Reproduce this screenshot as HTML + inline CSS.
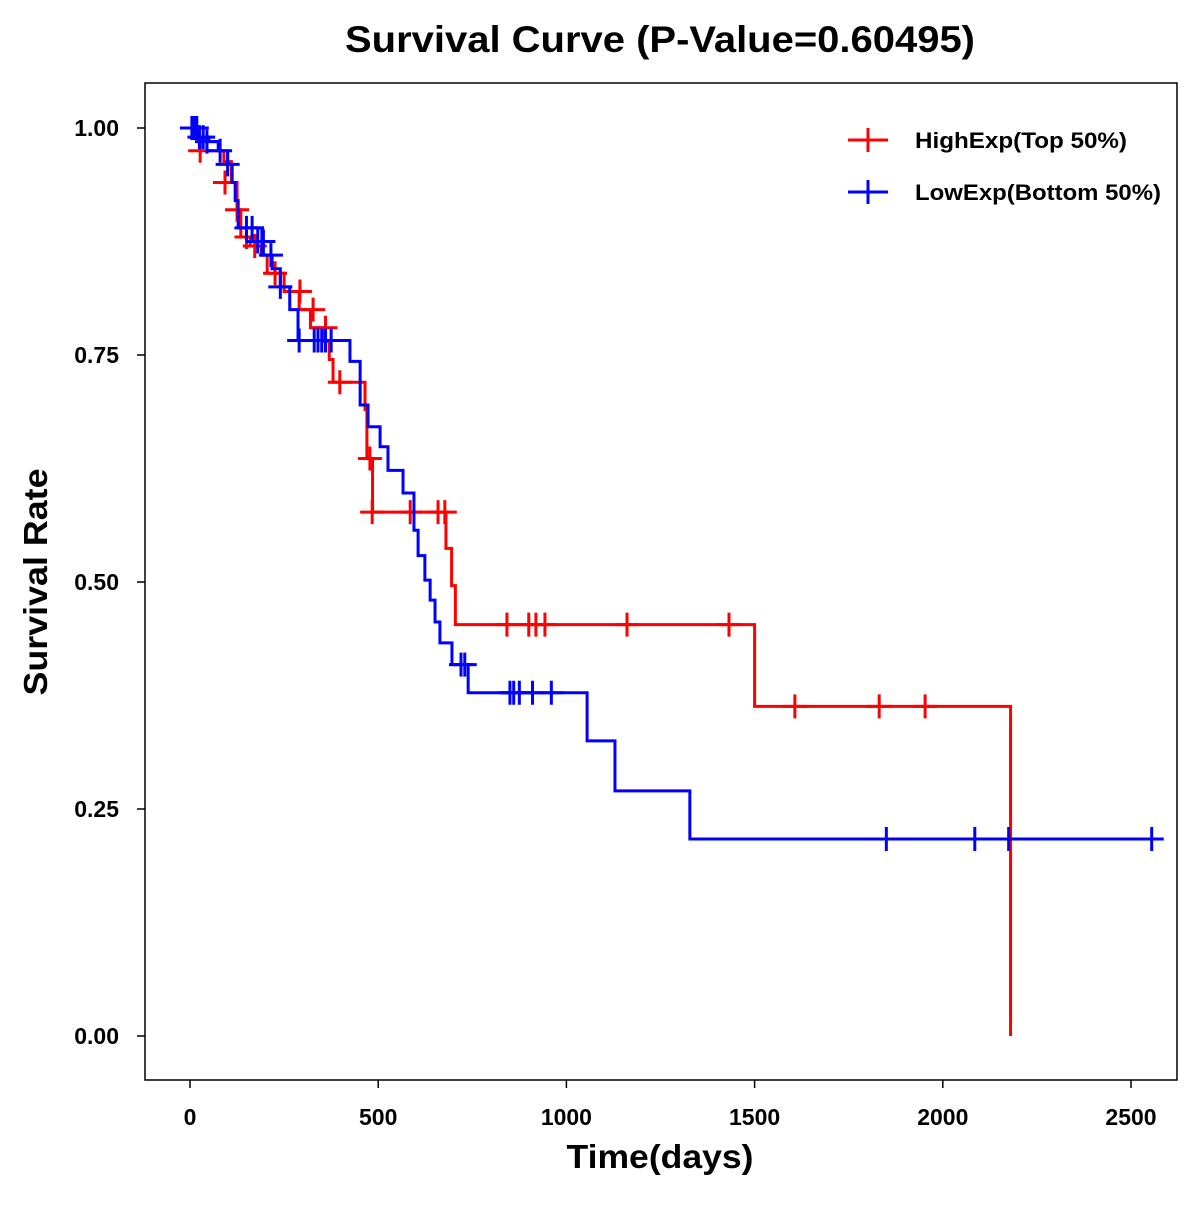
<!DOCTYPE html>
<html><head><meta charset="utf-8"><style>
body{margin:0;background:#fff}
text{font-family:"Liberation Sans",Arial,sans-serif;font-weight:bold}
</style></head><body>
<svg id="chart" width="1200" height="1200" xmlns="http://www.w3.org/2000/svg">
<rect width="1200" height="1200" fill="#fff"/>
<text x="660" y="52" font-size="37" text-anchor="middle" textLength="630" lengthAdjust="spacingAndGlyphs">Survival Curve (P-Value=0.60495)</text>
<rect x="145" y="83" width="1032" height="997" fill="none" stroke="#000" stroke-width="1.5"/>
<g id="axes"></g>
<g id="series"></g>
<text x="660" y="1168" font-size="33" text-anchor="middle" textLength="187" lengthAdjust="spacingAndGlyphs">Time(days)</text>
<text transform="translate(47,582) rotate(-90)" font-size="33" text-anchor="middle" textLength="227" lengthAdjust="spacingAndGlyphs">Survival Rate</text>
<g>
<g><line x1="848" y1="140" x2="888" y2="140" stroke="#f00" stroke-width="3"/><line x1="868" y1="128" x2="868" y2="152" stroke="#f00" stroke-width="3"/><text x="915" y="148" font-size="22" textLength="212" lengthAdjust="spacingAndGlyphs">HighExp(Top 50%)</text></g>
<g><line x1="848" y1="192" x2="888" y2="192" stroke="#00f" stroke-width="3"/><line x1="868" y1="180" x2="868" y2="204" stroke="#00f" stroke-width="3"/><text x="915" y="200" font-size="22" textLength="246" lengthAdjust="spacingAndGlyphs">LowExp(Bottom 50%)</text></g>
</g>
</svg>
<script>
const xTicks=[0,500,1000,1500,2000,2500];
const yTicks=[0,0.25,0.5,0.75,1.0];
const yTickLabels=["0.00","0.25","0.50","0.75","1.00"];
const highTimes=[0,25,45,90,110,125,135,160,190,205,250,290,320,355,370,380,465,470,485,680,695,705,1500,2180];
const highSurv=[1.0,0.988,0.975,0.963,0.94,0.91,0.88,0.87,0.86,0.84,0.82,0.80,0.78,0.765,0.745,0.72,0.69,0.636,0.577,0.537,0.496,0.453,0.363,0.0];
const highEnd=2180;
const highCensorT=[27,93,125,150,172,226,292,327,360,398,478,484,585,659,677,842,900,919,943,1161,1432,1607,1831,1953];
const highCensorS=[0.975,0.94,0.91,0.88,0.87,0.84,0.82,0.80,0.78,0.72,0.636,0.577,0.577,0.577,0.577,0.453,0.453,0.453,0.453,0.453,0.453,0.363,0.363,0.363];
const lowTimes=[0,20,50,75,100,112,120,128,191,218,240,265,287,425,452,473,505,526,566,595,606,624,638,651,664,696,739,1055,1129,1328];
const lowSurv=[1.0,0.99,0.985,0.975,0.96,0.94,0.92,0.89,0.86,0.845,0.825,0.80,0.766,0.743,0.695,0.671,0.649,0.623,0.598,0.557,0.529,0.502,0.48,0.456,0.433,0.409,0.378,0.325,0.27,0.217];
const lowEnd=2585;
const lowCensorT=[5,12,18,25,35,45,80,100,150,165,180,195,215,240,290,330,340,350,360,375,720,730,850,860,875,910,960,1850,2085,2175,2555];
const lowCensorS=[1,1,1,0.99,0.99,0.985,0.975,0.96,0.89,0.89,0.875,0.875,0.86,0.825,0.766,0.766,0.766,0.766,0.766,0.766,0.409,0.409,0.378,0.378,0.378,0.378,0.378,0.217,0.217,0.217,0.217];

const NS="http://www.w3.org/2000/svg";
const X=t=>190+t*(941/2500);
const Y=s=>1036-s*908;
function mk(tag,attrs,parent){const e=document.createElementNS(NS,tag);for(const k in attrs)e.setAttribute(k,attrs[k]);parent.appendChild(e);return e;}
const ax=document.getElementById('axes');
xTicks.forEach(v=>{
 const l=mk('line',{x1:X(v),x2:X(v),y1:1080,y2:1088,stroke:'#000','stroke-width':1.5},ax);
 
 
 const t=mk('text',{x:X(v),y:1125,'font-size':23,'text-anchor':'middle'},ax);t.textContent=v;
 
 
});
yTicks.forEach((v,i)=>{
 const l=mk('line',{x1:137,x2:145,y1:Y(v),y2:Y(v),stroke:'#000','stroke-width':1.5},ax);
 
 
 const t=mk('text',{x:119,y:Y(v)+8,'font-size':23,'text-anchor':'end'},ax);t.textContent=yTickLabels[i];
 
 
});
const sg=document.getElementById('series');
function drawSeries(times,surv,end,ct,cs,color,name){
 let d='M'+X(times[0])+','+Y(surv[0]);
 for(let i=1;i<times.length;i++){d+=' H'+X(times[i])+' V'+Y(surv[i]);}
 d+=' H'+X(end);
 const p=mk('path',{d:d,fill:'none',stroke:color,'stroke-width':3},sg);
 
 
 ct.forEach((t,i)=>{
  const x=X(t),y=Y(cs[i]);
  const c=mk('path',{d:`M${x-12},${y} H${x+12} M${x},${y-12} V${y+12}`,stroke:color,'stroke-width':3,fill:'none'},sg);
  
  
 });
}
drawSeries(highTimes,highSurv,highEnd,highCensorT,highCensorS,'#f00','high-exp');
drawSeries(lowTimes,lowSurv,lowEnd,lowCensorT,lowCensorS,'#00f','low-exp');
</script>
</body></html>
